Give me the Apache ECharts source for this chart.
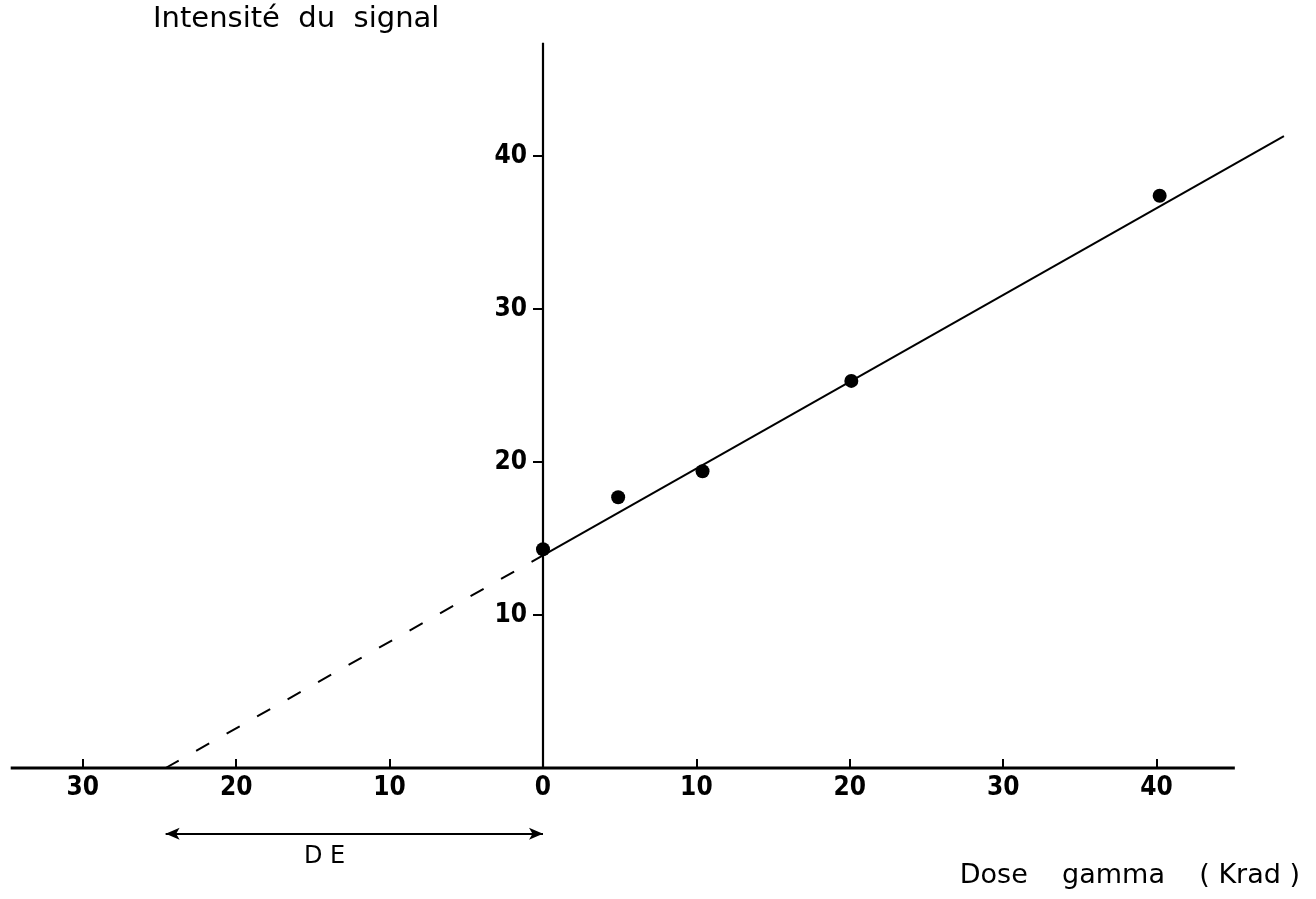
<!DOCTYPE html>
<html>
<head>
<meta charset="utf-8">
<script src="https://cdn.jsdelivr.net/npm/echarts@6/dist/echarts.min.js"></script>
<style>
html,body{margin:0;padding:0;background:#fff;}
#chart{width:1316px;height:899px;}
</style>
</head>
<body>
<div id="chart"></div>
<script>
// Measured points (Dose gamma in Krad, signal intensity)
const doseValues = [0, 4.9, 10.4, 20.1, 40.2];
const intensityValues = [14.3, 17.7, 19.4, 25.3, 37.4];

// Fitted straight line (solid part) and its extrapolation (dashed part)
const fitSolidX = [0, 48.3];
const fitSolidY = [13.9, 41.3];
const fitDashedX = [-24.6, 0];
const fitDashedY = [0, 13.9];

// Axis extents as drawn
const xAxisLineX = [-34.7, 45.1];
const yAxisLineY = [0, 47.4];

// Equivalent dose (DE) arrow
const deArrowX = [-24.6, 0];
const deArrowY = -4.3;

// Tick labels
const xTickValues = [-30, -20, -10, 0, 10, 20, 30, 40];
const xTickLabels = ['30', '20', '10', '0', '10', '20', '30', '40'];
const yTickValues = [10, 20, 30, 40];
const yTickLabels = ['10', '20', '30', '40'];

const pairs = (xs, ys) => xs.map((x, i) => [x, ys[i]]);

const labelFont = "'DejaVu Sans Condensed', 'Liberation Sans Narrow', 'Liberation Sans', sans-serif";
const textFont = "'DejaVu Sans', 'Liberation Sans', sans-serif";

// axis ranges (wider than the canvas)
const xMin = -40, xMax = 60, yMin = -10, yMax = 60;
// grid geometry: x=0 at 543px (15.34 px/unit), y=0 at 768px (15.3 px/unit)
const gridLeft = -70.6, gridRight = -147.4, gridTop = -150, gridBottom = -22;

const W = 1316, H = 899;
const gridW = W - gridLeft - gridRight;
const gridH = H - gridTop - gridBottom;
// offsets moving the axes from grid edges onto the zero lines
const yAxisOffset = -gridW * (0 - xMin) / (xMax - xMin);
const xAxisOffset = -gridH * (0 - yMin) / (yMax - yMin);

const chart = echarts.init(document.getElementById('chart'), null, {renderer: 'canvas'});

const option = {
  backgroundColor: '#ffffff',
  animation: false,
  grid: {left: gridLeft, right: gridRight, top: gridTop, bottom: gridBottom, containLabel: false, outerBoundsMode: 'none'},
  xAxis: {
    type: 'value',
    position: 'bottom',
    offset: xAxisOffset,
    min: xMin, max: xMax, interval: 10,
    axisLine: {show: false, onZero: false},
    axisTick: {show: true, inside: true, length: 9, customValues: xTickValues, lineStyle: {color: '#000', width: 2}},
    splitLine: {show: false},
    axisLabel: {
      margin: 7,
      customValues: xTickValues,
      color: '#000',
      fontSize: 26,
      fontWeight: 'bold',
      fontFamily: labelFont,
      formatter: function (v) {
        const i = xTickValues.indexOf(v);
        return i >= 0 ? xTickLabels[i] : '';
      }
    }
  },
  yAxis: {
    type: 'value',
    position: 'left',
    offset: yAxisOffset,
    min: yMin, max: yMax, interval: 10,
    axisLine: {show: false, onZero: false},
    axisTick: {show: true, inside: false, length: 10, customValues: yTickValues, lineStyle: {color: '#000', width: 2}},
    splitLine: {show: false},
    axisLabel: {
      margin: 16,
      customValues: yTickValues,
      color: '#000',
      fontSize: 26,
      fontWeight: 'bold',
      fontFamily: labelFont,
      formatter: function (v) {
        const i = yTickValues.indexOf(v);
        return i >= 0 ? yTickLabels[i] : '';
      }
    }
  },
  series: [
    {
      name: 'xAxisLine', type: 'line', symbol: 'none', silent: true,
      data: pairs(xAxisLineX, [0, 0]),
      lineStyle: {color: '#000', width: 3}
    },
    {
      name: 'yAxisLine', type: 'line', symbol: 'none', silent: true,
      data: pairs([0, 0], yAxisLineY),
      lineStyle: {color: '#000', width: 2.2}
    },
    {
      name: 'fitSolid', type: 'line', symbol: 'none', silent: true,
      data: pairs(fitSolidX, fitSolidY),
      lineStyle: {color: '#000', width: 2}
    },
    {
      name: 'fitDashed', type: 'line', symbol: 'none', silent: true,
      data: pairs(fitDashedX, fitDashedY),
      lineStyle: {color: '#000', width: 2, type: [15, 20]}
    },
    {
      name: 'points', type: 'scatter', symbol: 'circle', symbolSize: 14,
      data: pairs(doseValues, intensityValues),
      itemStyle: {color: '#000', opacity: 1}
    },
    {
      name: 'DE', type: 'line', data: [], silent: true,
      markLine: {
        silent: true,
        symbol: ['arrow', 'arrow'],
        symbolSize: [9, 14],
        label: {show: false},
        lineStyle: {color: '#000', width: 2, type: 'solid'},
        data: [[{coord: [deArrowX[0], deArrowY]}, {coord: [deArrowX[1], deArrowY]}]]
      }
    }
  ],
  graphic: [
    {
      type: 'text', left: 153, top: 5,
      style: {text: 'Intensité  du  signal', fontSize: 29, fontFamily: textFont, fill: '#000'}
    },
    {
      type: 'text', left: 304, top: 845,
      style: {text: 'D E', fontSize: 24, fontFamily: textFont, fill: '#000'}
    },
    {
      type: 'text', right: 16, top: 862,
      style: {text: 'Dose    gamma    ( Krad )', fontSize: 27, fontFamily: textFont, fill: '#000'}
    }
  ]
};

chart.setOption(option);
</script>
</body>
</html>
